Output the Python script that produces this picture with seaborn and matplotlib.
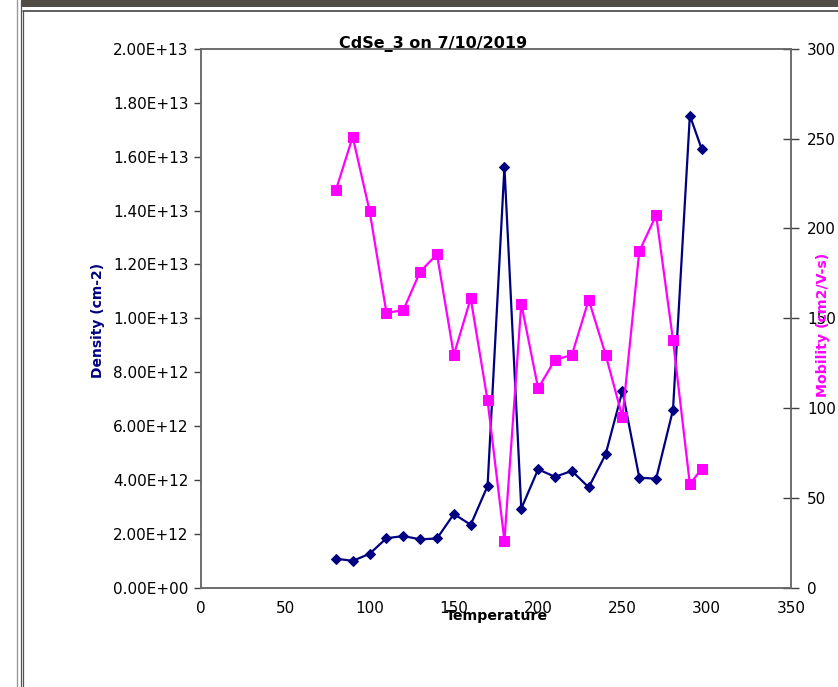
import matplotlib
matplotlib.use("Agg")
import matplotlib.pyplot as plt
from matplotlib.lines import Line2D
from matplotlib.patches import Rectangle
from matplotlib.ticker import FuncFormatter, MultipleLocator
import seaborn as sns
import pandas as pd

# Hall measurement sweep, CdSe_3
temperature = [80, 90, 100, 110, 120, 130, 140, 150, 160, 170, 180, 190,
               200, 210, 220, 230, 240, 250, 260, 270, 280, 290, 297]
density = [1.07e12, 0.99e12, 1.25e12, 1.83e12, 1.91e12, 1.79e12, 1.82e12,
           2.73e12, 2.33e12, 3.77e12, 1.562e13, 2.93e12, 4.39e12, 4.11e12,
           4.33e12, 3.72e12, 4.94e12, 7.30e12, 4.08e12, 4.04e12, 6.60e12,
           1.753e13, 1.629e13]
mobility = [221.3, 251.1, 209.8, 153.1, 154.4, 176.0, 185.6, 129.5, 161.1,
            104.2, 26.1, 158.1, 110.9, 126.9, 129.5, 160.3, 129.8, 94.9,
            187.3, 207.4, 137.9, 57.6, 66.1]

title = "CdSe_3 on 7/10/2019"
x_label = "Temperature"
density_label = "Density (cm-2)"
mobility_label = "Mobility (cm2/V-s)"

df = pd.DataFrame({"Temperature": temperature, "Density": density,
                   "Mobility": mobility})

sns.set_style("white")
plt.rcParams["font.family"] = ["DejaVu Sans"]

W, H = 838, 687
fig = plt.figure(figsize=(W / 100, H / 100), dpi=100)
fig.patch.set_facecolor("white")

left, right, top, bottom = 201, 791, 49, 587.5
ax = fig.add_axes([left / W, 1 - bottom / H, (right - left) / W, (bottom - top) / H])
ax2 = ax.twinx()

navy = "#000080"
magenta = "#FF00FF"

sns.lineplot(data=df, x="Temperature", y="Density", ax=ax, color=navy,
             marker="D", markersize=5, markeredgecolor=navy, linewidth=1.6,
             sort=False)
sns.lineplot(data=df, x="Temperature", y="Mobility", ax=ax2, color=magenta,
             marker="s", markersize=6.5, markeredgecolor=magenta, linewidth=1.6,
             sort=False)

ax.set_xlim(0, 350)
ax.set_ylim(0, 2e13)
ax2.set_ylim(0, 300)
ax.xaxis.set_major_locator(MultipleLocator(50))
ax.yaxis.set_major_locator(MultipleLocator(2e12))
ax2.yaxis.set_major_locator(MultipleLocator(50))
ax.yaxis.set_major_formatter(FuncFormatter(lambda v, p: f"{v:.2E}"))

ax.set_xlabel("")
ax.set_ylabel("")
ax2.set_ylabel("")

spine_col = "#6a6a6a"
for a in (ax, ax2):
    for s in a.spines.values():
        s.set_visible(True)
        s.set_color(spine_col)
        s.set_linewidth(1.1)

ax.tick_params(axis="both", which="major", direction="out", length=5,
               width=1, color="#404040", labelsize=11, labelcolor="black",
               pad=4)
ax.tick_params(axis="x", pad=5)
ax2.tick_params(axis="y", which="major", direction="inout", length=11,
                width=1, color="#404040", labelsize=11, labelcolor="black",
                pad=6)

# titles and axis captions
fig.text(433 / W, 1 - 48 / H, title, ha="center", va="baseline",
         fontsize=11.5, fontweight="bold", color="black")
fig.text(497 / W, 1 - 616 / H, x_label, ha="center", va="center",
         fontsize=10.2, fontweight="bold", color="black")
fig.text(98 / W, 1 - 320 / H, density_label, ha="center", va="center",
         rotation=90, fontsize=10, fontweight="bold", color=navy)
fig.text(823 / W, 1 - 325 / H, mobility_label, ha="center", va="center",
         rotation=90, fontsize=10.2, fontweight="bold", color=magenta)

# surrounding window frame
def px_line(x0, y0, x1, y1, color, lw=1.0):
    fig.add_artist(Line2D([x0 / W, x1 / W], [1 - y0 / H, 1 - y1 / H],
                          transform=fig.transFigure, color=color, linewidth=lw))

fig.add_artist(Rectangle((21 / W, 1 - 7 / H), 1 - 21 / W, 7 / H,
                         transform=fig.transFigure, color="#524c46", lw=0))
px_line(16.5, 0, 16.5, H, "#9a9a9a", 1.0)
px_line(20.5, 0, 20.5, H, "#555555", 0.9)
px_line(22.5, 10.5, 22.5, H, "#555555", 0.9)
px_line(22.5, 10.5, W, 10.5, "#444444", 1.2)

fig.savefig("out.png", dpi=100)
